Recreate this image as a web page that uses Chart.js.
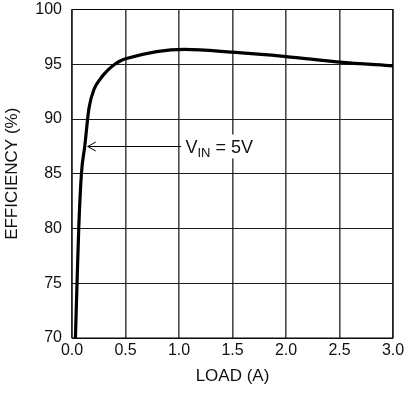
<!DOCTYPE html>
<html>
<head>
<meta charset="utf-8">
<script src="https://cdn.jsdelivr.net/npm/chart.js@4/dist/chart.umd.min.js"></script>
<style>
  html, body { margin: 0; padding: 0; background: #fff; }
  #wrap { width: 409px; height: 397px; }
</style>
</head>
<body>
<div id="wrap"><canvas id="grafico" width="409" height="397"></canvas></div>
<script>
const loadA = [0.032, 0.047, 0.063, 0.088, 0.119, 0.159, 0.21, 0.26, 0.3, 0.35, 0.4, 0.45, 0.5, 1.05, 1.5, 2.0, 2.5, 3.0];
const efficiency = [70, 75, 80, 85, 87.5, 91.0, 92.8, 93.6, 94.1, 94.6, 95.0, 95.3, 95.5, 96.35, 96.1, 95.7, 95.2, 94.85];
const xTicks = [0, 0.5, 1.0, 1.5, 2.0, 2.5, 3.0];
const yTicks = [70, 75, 80, 85, 90, 95, 100];

// label "VIN = 5V" with arrow pointing at the curve
const labelPos = { x: 1.06, y: 87.5, tipX: 0.147, endX: 1.02 };

const FONT = "'Liberation Sans', Arial, sans-serif";

const anotacao = {
  id: "anotacao",
  afterDatasetsDraw(chart) {
    const { ctx, chartArea, scales } = chart;
    ctx.save();
    // frame
    ctx.strokeStyle = "#000";
    ctx.lineWidth = 1;
    ctx.strokeRect(chartArea.left, chartArea.top, chartArea.right - chartArea.left, chartArea.bottom - chartArea.top);

    const y = Math.round(scales.y.getPixelForValue(labelPos.y)) + 0.5;
    const tip = scales.x.getPixelForValue(labelPos.tipX);
    const end = scales.x.getPixelForValue(labelPos.endX);
    ctx.beginPath();
    ctx.moveTo(end, y);
    ctx.lineTo(tip, y);
    ctx.moveTo(tip + 8, y - 4.5);
    ctx.lineTo(tip, y);
    ctx.lineTo(tip + 8, y + 4.5);
    ctx.stroke();

    // white box behind the text
    let tx = scales.x.getPixelForValue(labelPos.x);
    ctx.fillStyle = "#fff";
    ctx.fillRect(tx - 2, y - 12, 78, 24);

    ctx.fillStyle = "#111";
    ctx.textBaseline = "alphabetic";
    ctx.font = "18px " + FONT;
    ctx.fillText("V", tx, y + 6);
    tx += ctx.measureText("V").width;
    ctx.font = "13px " + FONT;
    ctx.fillText("IN", tx, y + 10);
    tx += ctx.measureText("IN").width;
    ctx.font = "18px " + FONT;
    ctx.fillText(" = 5V", tx, y + 6);
    ctx.restore();
  },
};

new Chart(document.getElementById("grafico"), {
  type: "scatter",
  data: {
    datasets: [
      {
        data: loadA.map((x, i) => ({ x: x, y: efficiency[i] })),
        showLine: true,
        borderColor: "#000",
        borderWidth: 3.2,
        pointRadius: 0,
        cubicInterpolationMode: "monotone",
      },
    ],
  },
  options: {
    responsive: false,
    animation: false,
    layout: { padding: { top: 9.5, right: 16, left: 0, bottom: 0 } },
    plugins: { legend: { display: false }, tooltip: { enabled: false } },
    scales: {
      x: {
        type: "linear",
        min: 0,
        max: 3,
        afterBuildTicks: (axis) => { axis.ticks = xTicks.map((v) => ({ value: v })); },
        afterFit: (axis) => {
          axis.height = 59;
          axis.paddingLeft = 0;
          axis.paddingRight = 0;
        },
        grid: { color: "#4a4a4a", lineWidth: 1.6, drawTicks: false },
        border: { display: false },
        ticks: {
          padding: 3,
          color: "#111",
          font: { family: FONT, size: 16 },
          callback: (v) => Number(v).toFixed(1),
          maxRotation: 0,
        },
        title: {
          display: true,
          text: "LOAD (A)",
          color: "#111",
          font: { family: FONT, size: 17 },
          padding: { top: 0, bottom: 10 },
        },
      },
      y: {
        min: 70,
        max: 100,
        afterBuildTicks: (axis) => { axis.ticks = yTicks.map((v) => ({ value: v })); },
        afterFit: (axis) => {
          axis.width = 72;
          axis.paddingTop = 0;
          axis.paddingBottom = 0;
        },
        grid: { color: "#1a1a1a", lineWidth: 1, drawTicks: false },
        border: { display: false },
        ticks: {
          padding: 10,
          color: "#111",
          font: { family: FONT, size: 16 },
        },
        title: {
          display: true,
          text: "EFFICIENCY (%)",
          color: "#111",
          font: { family: FONT, size: 17 },
          padding: { top: 2, bottom: 0 },
        },
      },
    },
  },
  plugins: [anotacao],
});
</script>
</body>
</html>
